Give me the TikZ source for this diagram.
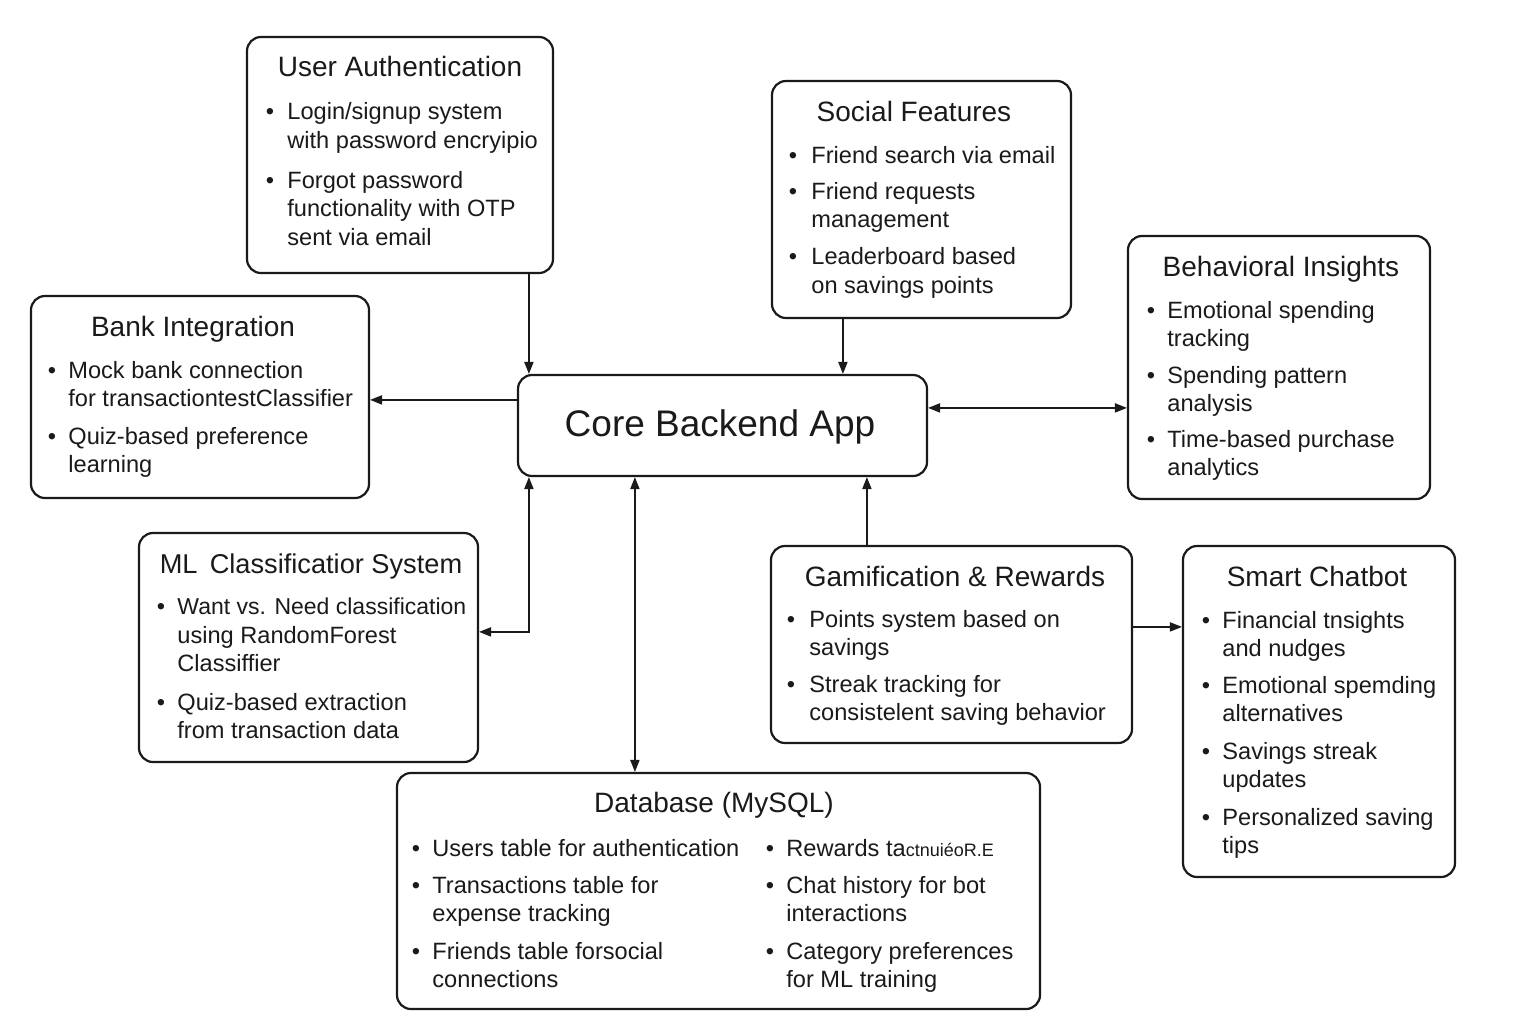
\documentclass[tikz,border=0pt]{standalone}
\usepackage{fontspec}
\setmainfont{Liberation Sans}
\usetikzlibrary{arrows.meta,fit}
\definecolor{ink}{HTML}{1A1A1A}
\tikzset{
  box/.style={draw=ink, line width=1.1pt, rounded corners=7pt, inner sep=0pt, fill=white},
  ttl/.style={font=\fontsize{14}{16}\selectfont, anchor=base, inner sep=0pt, text=ink},
  coretxt/.style={font=\fontsize{18.5}{22}\selectfont, anchor=base, inner sep=0pt, text=ink},
  txt/.style={font=\fontsize{11.8}{14}\selectfont, anchor=base west, inner sep=0pt, text=ink},
  bul/.style={font=\fontsize{11.8}{14}\selectfont, anchor=base, inner sep=0pt, text=ink},
  arr/.style={draw=ink, line width=0.7pt, -{Triangle[length=6pt,width=4.6pt]}},
  darr/.style={draw=ink, line width=0.7pt, {Triangle[length=6pt,width=4.6pt]}-{Triangle[length=6pt,width=4.6pt]}}
}
\newcommand\ttl[4]{\node[ttl] (#1) at (#2,#3) {#4};}
\newcommand\tline[4]{\node[txt] (#1) at (#2,#3) {#4};}
\newcommand\bul[3]{\node[bul] (#1) at (#2,#3) {\textbullet};}
\begin{document}
\begin{tikzpicture}[x=0.5pt,y=-0.5pt]
\fill[white] (0,0) rectangle (1536,1024);
\useasboundingbox (0,0) rectangle (1536,1024);

% boxes
\node[box, fit={(247,37) (553,273)}] (ua) {};
\node[box, fit={(772,81) (1071,318)}] (soc) {};
\node[box, fit={(31,296) (369,498)}] (bank) {};
\node[box, fit={(518,375) (927,476)}] (core) {};
\node[box, fit={(1128,236) (1430,499)}] (beh) {};
\node[box, fit={(139,533) (478,762)}] (ml) {};
\node[box, fit={(771,546) (1132,743)}] (gam) {};
\node[box, fit={(1183,546) (1455,877)}] (chat) {};
\node[box, fit={(397,773) (1040,1009)}] (db) {};

% User Authentication
\ttl{ua-t}{400}{76}{User Authentication}
\bul{ua-b1}{270}{119}
\tline{ua-l1}{287}{119}{Login/signup system}
\tline{ua-l2}{287}{148}{with password encryipio}
\bul{ua-b2}{270}{188}
\tline{ua-l3}{287}{188}{Forgot password}
\tline{ua-l4}{287}{216}{functionality with OTP}
\tline{ua-l5}{287}{245}{sent via email}

% Social Features
\ttl{soc-t}{914}{121}{Social Features}
\bul{soc-b1}{793}{163}
\tline{soc-l1}{811}{163}{Friend search via email}
\bul{soc-b2}{793}{199}
\tline{soc-l2}{811}{199}{Friend requests}
\tline{soc-l3}{811}{227}{management}
\bul{soc-b3}{793}{264}
\tline{soc-l4}{811}{264}{Leaderboard based}
\tline{soc-l5}{811}{293}{on savings points}

% Behavioral Insights
\ttl{beh-t}{1281}{276}{Behavioral Insights}
\bul{beh-b1}{1151}{318}
\tline{beh-l1}{1167}{318}{Emotional spending}
\tline{beh-l2}{1167}{346}{tracking}
\bul{beh-b2}{1151}{383}
\tline{beh-l3}{1167}{383}{Spending pattern}
\tline{beh-l4}{1167}{411}{analysis}
\bul{beh-b3}{1151}{447}
\tline{beh-l5}{1167}{447}{Time-based purchase}
\tline{beh-l6}{1167}{475}{analytics}

% Bank Integration
\ttl{bank-t}{193}{336}{Bank Integration}
\bul{bank-b1}{52}{378}
\tline{bank-l1}{68}{378}{Mock bank connection}
\tline{bank-l2}{68}{406}{for transactiontestClassifier}
\bul{bank-b2}{52}{444}
\tline{bank-l3}{68}{444}{Quiz-based preference}
\tline{bank-l4}{68}{472}{learning}

% Core
\node[coretxt] (core-t) at (720,436) {Core Backend App};

% ML Classification System
\ttl{ml-t}{311}{573}{\fontsize{13.6}{16}\selectfont ML\hspace{0.45em}Classificatior System}
\bul{ml-b1}{161}{614}
\tline{ml-l1}{177}{614}{\fontsize{11.5}{14}\selectfont Want vs. Need classification}
\tline{ml-l2}{177}{643}{using RandomForest}
\tline{ml-l3}{177}{671}{Classiffier}
\bul{ml-b2}{161}{710}
\tline{ml-l4}{177}{710}{Quiz-based extraction}
\tline{ml-l5}{177}{738}{from transaction data}

% Gamification & Rewards
\ttl{gam-t}{955}{586}{Gamification \& Rewards}
\bul{gam-b1}{791}{627}
\tline{gam-l1}{809}{627}{Points system based on}
\tline{gam-l2}{809}{655}{savings}
\bul{gam-b2}{791}{692}
\tline{gam-l3}{809}{692}{Streak tracking for}
\tline{gam-l4}{809}{720}{consistelent saving behavior}

% Smart Chatbot
\ttl{chat-t}{1317}{586}{Smart Chatbot}
\bul{chat-b1}{1206}{628}
\tline{chat-l1}{1222}{628}{Financial tnsights}
\tline{chat-l2}{1222}{656}{and nudges}
\bul{chat-b2}{1206}{693}
\tline{chat-l3}{1222}{693}{Emotional spemding}
\tline{chat-l4}{1222}{721}{alternatives}
\bul{chat-b3}{1206}{759}
\tline{chat-l5}{1222}{759}{Savings streak}
\tline{chat-l6}{1222}{787}{updates}
\bul{chat-b4}{1206}{825}
\tline{chat-l7}{1222}{825}{Personalized saving}
\tline{chat-l8}{1222}{853}{tips}

% Database
\ttl{db-t}{714}{812}{Database (MySQL)}
\bul{db-b1}{416}{856}
\tline{db-l1}{432}{856}{Users table for authentication}
\bul{db-b2}{416}{893}
\tline{db-l2}{432}{893}{Transactions table for}
\tline{db-l3}{432}{921}{expense tracking}
\bul{db-b3}{416}{959}
\tline{db-l4}{432}{959}{Friends table forsocial}
\tline{db-l5}{432}{987}{connections}
\bul{db-b4}{770}{856}
\tline{db-r1}{786}{856}{Rewards ta{\fontsize{9}{10}\selectfont ctnuiéoR.E}}
\bul{db-b5}{770}{893}
\tline{db-r2}{786}{893}{Chat history for bot}
\tline{db-r3}{786}{921}{interactions}
\bul{db-b6}{770}{959}
\tline{db-r4}{786}{959}{Category preferences}
\tline{db-r5}{786}{987}{for ML training}

% connectors
\draw[arr] ([xshift=6pt]core.north west |- ua.south) -- ([xshift=6pt]core.north west);
\draw[arr] ([xshift=36pt]soc.south west) -- ([xshift=36pt]soc.south west |- core.north);
\draw[arr] ([yshift=-13pt]core.north west) -- ([yshift=-13pt]core.north west -| bank.east);
\draw[darr] ([yshift=-17pt]core.north east) -- ([yshift=-17pt]core.north east -| beh.west);
\draw[darr] ([xshift=6pt]core.south west) |- ([yshift=-50pt]ml.north east);
\draw[darr] ([xshift=59pt]core.south west) -- ([xshift=59pt]core.south west |- db.north);
\draw[arr] ([xshift=48.5pt]gam.north west) -- ([xshift=48.5pt]gam.north west |- core.south);
\draw[arr] ([yshift=-41pt]gam.north east) -- ([yshift=-41pt]gam.north east -| chat.west);
\end{tikzpicture}
\end{document}
